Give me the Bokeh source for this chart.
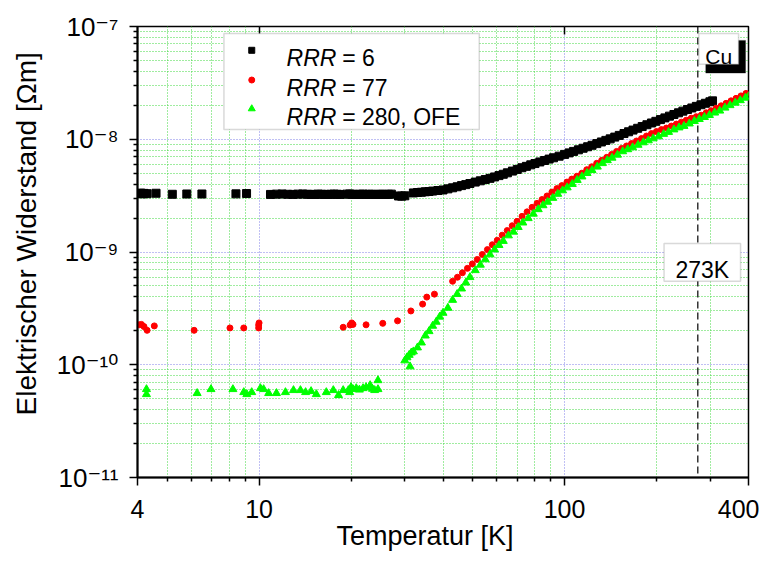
import math
from bokeh.plotting import figure
from bokeh.models import (FixedTicker, LogAxis, Label, BoxAnnotation, Span, Title,
                          CustomJSTickFormatter)
from bokeh.embed import file_html
from bokeh.resources import INLINE

# ---------------- data ----------------
# RRR = 6 (black squares)
t_rrr6 = [4.05, 4.1, 4.15, 4.2, 4.3, 4.6, 5.2, 5.8, 6.5, 8.4, 9.1, 10.9, 11.4, 11.9,
          12.4, 12.9, 13.4, 13.9, 14.4, 14.8, 15.2, 15.6, 16.0, 16.4, 16.8, 17.2, 17.6,
          18.0, 18.4, 19.4, 19.8, 20.2, 20.6, 21.0, 21.4, 21.9, 22.4, 22.9, 23.4, 23.9,
          24.4, 24.9, 25.4, 25.9, 26.5, 27.1, 28.6, 29.3, 30.0,
          32, 33, 34, 35, 36, 37, 38.5, 40, 41.5, 43, 44.5, 46, 47.5, 49, 51, 53, 55,
          57, 59, 61, 63, 65, 67.5, 70, 72.5, 75, 77.5, 80, 83, 86, 89, 92, 96,
          100, 103.5, 107, 111, 115, 119, 123, 127.5, 132, 136.5, 141, 146, 151, 156.5,
          162, 167.5, 173.5, 179.5, 186, 192.5, 199, 206, 213, 220.5, 228, 236, 244,
          252.5, 261, 270, 279.5, 289, 299, 305]
rho_rrr6 = [3.30e-9, 3.33e-9, 3.28e-9, 3.31e-9, 3.29e-9, 3.32e-9, 3.25e-9, 3.27e-9, 3.27e-9,
            3.28e-9, 3.30e-9, 3.24e-9, 3.26e-9, 3.27e-9, 3.25e-9, 3.24e-9, 3.26e-9, 3.27e-9,
            3.25e-9, 3.24e-9, 3.24e-9, 3.26e-9, 3.25e-9, 3.24e-9, 3.24e-9, 3.25e-9, 3.26e-9,
            3.25e-9, 3.24e-9, 3.26e-9, 3.27e-9, 3.25e-9, 3.24e-9, 3.24e-9, 3.25e-9, 3.26e-9,
            3.24e-9, 3.25e-9, 3.25e-9, 3.24e-9, 3.24e-9, 3.25e-9, 3.25e-9, 3.24e-9, 3.25e-9,
            3.26e-9, 3.14e-9, 3.13e-9, 3.15e-9,
            3.34e-9, 3.37e-9, 3.39e-9, 3.42e-9, 3.44e-9, 3.47e-9, 3.51e-9, 3.55e-9, 3.63e-9,
            3.71e-9, 3.79e-9, 3.88e-9, 3.96e-9, 4.05e-9, 4.17e-9, 4.28e-9, 4.39e-9, 4.50e-9,
            4.63e-9, 4.76e-9, 4.89e-9, 5.04e-9, 5.22e-9, 5.40e-9, 5.59e-9, 5.75e-9, 5.93e-9,
            6.09e-9, 6.29e-9, 6.48e-9, 6.67e-9, 6.85e-9, 7.08e-9,
            7.34e-9, 7.57e-9, 7.80e-9, 8.06e-9, 8.32e-9, 8.58e-9, 8.84e-9, 9.15e-9, 9.46e-9,
            9.77e-9, 1.008e-8, 1.045e-8, 1.082e-8, 1.124e-8, 1.165e-8, 1.206e-8, 1.251e-8,
            1.296e-8, 1.345e-8, 1.394e-8, 1.442e-8, 1.494e-8, 1.547e-8, 1.603e-8, 1.658e-8,
            1.716e-8, 1.776e-8, 1.835e-8, 1.894e-8, 1.957e-8, 2.023e-8, 2.085e-8, 2.150e-8,
            2.19e-8]

# RRR = 77 (red circles)
t_rrr77 = [4.05, 4.12, 4.2, 4.3, 4.54, 6.13, 8.03, 8.91, 9.97, 9.97, 10.0, 18.85, 19.86,
           20.1, 20.3, 22.4, 25.4, 28.4, 31.4, 34.3, 35.4, 37.5,
           43.0, 44.6, 46.3, 48.1, 49.9, 51.8, 53.8, 55.9, 58.0, 60.2, 62.5, 64.9, 67.4,
           69.9, 72.6, 75.4, 78.3, 81.3, 84.4, 87.6, 90.9, 94.4, 98.0, 101.8, 105.6,
           109.7, 113.9, 118.2, 122.7, 127.4, 132.3, 137.4, 142.6, 148.0, 153.7, 159.6,
           165.7, 172.0, 178.6, 185.4, 192.5, 199.8, 207.5, 215.4, 223.6, 232.2, 241.1,
           250.3, 259.8, 269.8, 280.1, 290.8, 301.9, 313.4, 325.4, 337.8, 350.7, 364.1,
           378.0, 392.5]
rho_rrr77 = [2.26e-10, 2.28e-10, 2.18e-10, 2.02e-10, 2.21e-10, 2.02e-10, 2.12e-10, 2.12e-10,
             2.12e-10, 2.25e-10, 2.35e-10, 2.15e-10, 2.25e-10, 2.35e-10, 2.28e-10, 2.26e-10,
             2.33e-10, 2.45e-10, 3.0e-10, 3.45e-10, 3.98e-10, 4.23e-10,
             5.50e-10, 5.97e-10, 6.54e-10, 7.16e-10, 7.84e-10, 8.59e-10, 9.51e-10, 1.05e-9,
             1.16e-9, 1.27e-9, 1.41e-9, 1.55e-9, 1.71e-9, 1.87e-9, 2.07e-9, 2.27e-9, 2.49e-9,
             2.70e-9, 2.92e-9, 3.14e-9, 3.40e-9, 3.65e-9, 3.88e-9, 4.17e-9, 4.43e-9, 4.70e-9,
             5.00e-9, 5.37e-9, 5.70e-9, 6.12e-9, 6.50e-9, 6.91e-9, 7.34e-9, 7.80e-9, 8.29e-9,
             8.72e-9, 9.17e-9, 9.65e-9, 1.015e-8, 1.068e-8, 1.124e-8, 1.170e-8, 1.218e-8,
             1.256e-8, 1.308e-8, 1.362e-8, 1.418e-8, 1.476e-8, 1.537e-8, 1.585e-8, 1.634e-8,
             1.718e-8, 1.789e-8, 1.882e-8, 1.980e-8, 2.083e-8, 2.191e-8, 2.305e-8, 2.424e-8,
             2.550e-8]

# RRR = 280, OFE (green triangles)
t_rrr280 = [4.28, 4.28, 6.27, 6.96, 8.21, 8.91, 9.12, 9.46, 10.1, 10.35, 10.75, 11.4, 12.2,
            12.96, 13.66, 14.2, 14.8, 15.4, 16.6, 17.5, 18.2, 18.85, 19.6, 19.8, 20.0, 20.3,
            20.8, 21.3, 21.9, 22.4, 23.1, 23.5, 23.9, 24.5, 24.5,
            30, 30.5, 31, 31.2, 31.5, 32, 33, 34, 35, 36, 37, 38, 39, 40, 41.5, 43, 44.5,
            46, 47.5, 49, 51, 53, 55, 57, 59, 61, 63, 65.5, 68, 70.5, 73, 76, 79, 82, 85,
            88, 91.5, 95, 98.5, 102, 106, 110, 114, 118.5, 123, 128, 133, 138, 143, 149,
            155, 161, 167, 174, 181, 188, 195, 203, 211, 219, 228, 237, 246, 256, 266, 276,
            287, 298, 310, 322, 335, 348, 362, 376, 391, 400]
rho_rrr280 = [6.06e-11, 5.47e-11, 5.59e-11, 6.06e-11, 6.06e-11, 5.70e-11, 5.47e-11, 5.70e-11,
              6.18e-11, 6.06e-11, 5.59e-11, 5.59e-11, 5.70e-11, 5.94e-11, 5.94e-11, 5.70e-11,
              5.82e-11, 5.47e-11, 5.70e-11, 5.94e-11, 5.37e-11, 5.94e-11, 5.94e-11, 5.70e-11,
              6.31e-11, 6.06e-11, 6.18e-11, 6.00e-11, 6.18e-11, 6.30e-11, 6.57e-11, 6.10e-11,
              5.94e-11, 7.27e-11, 6.06e-11,
              1.09e-10, 1.16e-10, 1.22e-10, 9.65e-11, 1.28e-10, 1.31e-10, 1.42e-10, 1.57e-10,
              1.81e-10, 1.98e-10, 2.21e-10, 2.40e-10, 2.66e-10, 2.88e-10, 3.19e-10, 3.75e-10,
              4.23e-10, 4.73e-10, 5.34e-10, 5.97e-10, 6.88e-10, 7.69e-10, 8.59e-10, 9.51e-10,
              1.05e-9, 1.15e-9, 1.25e-9, 1.40e-9, 1.51e-9, 1.66e-9, 1.82e-9, 1.99e-9, 2.18e-9,
              2.39e-9, 2.59e-9, 2.78e-9, 3.01e-9, 3.27e-9, 3.51e-9, 3.73e-9, 4.00e-9, 4.34e-9,
              4.66e-9, 5.00e-9, 5.31e-9, 5.70e-9, 6.12e-9, 6.50e-9, 6.84e-9, 7.27e-9, 7.80e-9,
              8.13e-9, 8.46e-9, 8.90e-9, 9.36e-9, 9.75e-9, 1.015e-8, 1.057e-8, 1.112e-8,
              1.158e-8, 1.218e-8, 1.269e-8, 1.308e-8, 1.375e-8, 1.447e-8, 1.507e-8, 1.569e-8,
              1.634e-8, 1.718e-8, 1.789e-8, 1.901e-8, 2.00e-8, 2.104e-8, 2.213e-8, 2.328e-8,
              2.40e-8]

x_ticks = [4, 10, 100, 400]
x_tick_labels = ["4", "10", "100", "400"]
x_minor = [5, 6, 7, 8, 9, 20, 30, 40, 50, 60, 70, 80, 90, 200, 300]
y_ticks = [1e-11, 1e-10, 1e-9, 1e-8, 1e-7]
y_tick_labels = ["10\u207b\u00b9\u00b9", "10\u207b\u00b9\u2070", "10\u207b\u2079",
                 "10\u207b\u2078", "10\u207b\u2077"]
y_minor = [k * 10.0 ** e for e in range(-11, -7) for k in range(2, 10)]
legend_names = ["= 6", "= 77", "= 280, OFE"]
legend_colors = ["black", "red", "#00ff00"]
legend_markers = ["square", "circle", "triangle"]
mark_temperature = 273
mark_label = "273K"
material_label = "Cu"
x_title = "Temperatur [K]"
y_title = "Elektrischer Widerstand [\u03a9m]"

FONT = "Liberation Sans, DejaVu Sans"

# ---------------- figure ----------------
W, H = 759, 552
FL, FR, FT, FB = 133, 748, 26, 481   # frame edges in canvas pixels

p = figure(width=W, height=H, x_axis_type="log", y_axis_type="log",
           x_range=(4, 400), y_range=(1e-11, 1e-7),
           output_backend="svg", toolbar_location=None,
           min_border_left=FL, min_border_right=W - FR,
           min_border_top=FT, min_border_bottom=H - FB)
p.background_fill_color = "white"
p.border_fill_color = "white"
p.outline_line_color = "black"
p.outline_line_width = 1.5


def tx(px):
    """canvas x pixel -> data x (log axis 4..400)"""
    return 4 * 10 ** ((px - FL) / (FR - FL) * 2)


def ry(py):
    """canvas y pixel -> data y (log axis 1e-11..1e-7)"""
    return 10 ** (-7 - (py - FT) / (FB - FT) * 4)


LOOKUP = """
const i = tvals.findIndex(t => Math.abs(Math.log10(t) - Math.log10(tick)) < 1e-6);
return i >= 0 ? tlabels[i] : "";
"""

xt = FixedTicker(ticks=x_ticks, minor_ticks=x_minor)
yt = FixedTicker(ticks=y_ticks, minor_ticks=y_minor)

xa = p.xaxis[0]
xa.ticker = xt
xa.formatter = CustomJSTickFormatter(args=dict(tvals=x_ticks, tlabels=x_tick_labels),
                                     code=LOOKUP)
xa.major_label_text_font = FONT
xa.major_label_text_font_size = "25px"
xa.major_label_text_color = "black"
xa.major_label_standoff = 14
xa.major_tick_out = 8
xa.major_tick_in = 0
xa.minor_tick_out = 4
xa.minor_tick_in = 0
xa.axis_line_width = 2
xa.major_tick_line_width = 1.5
xa.minor_tick_line_width = 1.5

ya = p.yaxis[0]
ya.ticker = yt
ya.formatter = CustomJSTickFormatter(args=dict(tvals=y_ticks, tlabels=y_tick_labels),
                                     code=LOOKUP)
ya.major_label_text_font = FONT
ya.major_label_text_font_size = "26px"
ya.major_label_text_color = "black"
ya.major_label_standoff = 11
ya.major_tick_out = 8
ya.major_tick_in = 0
ya.minor_tick_out = 4
ya.minor_tick_in = 0
ya.axis_line_width = 2
ya.major_tick_line_width = 1.5
ya.minor_tick_line_width = 1.5

top = LogAxis(ticker=FixedTicker(ticks=[10, 100]),
              formatter=CustomJSTickFormatter(code="return '';"),
              major_tick_in=8, major_tick_out=0, minor_tick_in=0, minor_tick_out=0,
              major_tick_line_width=1.5, axis_line_color=None,
              major_label_text_font_size="1px", major_label_standoff=0)
p.add_layout(top, "above")

# axis titles (side titles, shifted like in the reference)
p.add_layout(Title(text=x_title, align="left", offset=199, vertical_align="top",
                   text_font=FONT, text_font_size="27px", text_font_style="normal",
                   text_color="black", standoff=0), "below")
p.add_layout(Title(text=y_title, align="left", offset=62, vertical_align="top",
                   text_font=FONT, text_font_size="28px", text_font_style="normal",
                   text_color="black", standoff=20), "left")

for g, tk in ((p.xgrid[0], xt), (p.ygrid[0], yt)):
    g.ticker = tk
    g.grid_line_color = "#8080e8"
    g.grid_line_dash = "1 2"
    g.grid_line_width = 1
    g.minor_grid_line_color = "#40d840"
    g.minor_grid_line_dash = "1 2"
    g.minor_grid_line_width = 1

# 273 K marker line (under the data)
span = Span(location=mark_temperature, dimension="height", line_color="black",
            line_dash="7 4", line_width=1.2, level="underlay")
p.add_layout(span)

# data
p.scatter(t_rrr6, rho_rrr6, marker="square", size=8, color="black")
p.scatter(t_rrr77, rho_rrr77, marker="circle", size=6, color="red")
p.scatter(t_rrr280, rho_rrr280, marker="triangle", size=8, color="#00ff00")

# ---------------- annotations inside the frame ----------------
# legend box
p.add_layout(BoxAnnotation(left=tx(220), right=tx(477), top=ry(33), bottom=ry(130),
                           fill_color="white", fill_alpha=1, line_color="#808080",
                           line_width=1.5))
leg_rows = [50, 80, 109]
for name, col, mk, row in zip(legend_names, legend_colors, legend_markers, leg_rows):
    p.scatter([tx(248)], [ry(row)], marker=mk, size=7 if mk == "triangle" else 6,
              color=col, level="overlay")
    p.add_layout(Label(x=tx(283), y=ry(row + 8), text="RRR", text_font=FONT,
                       text_font_style="italic", text_font_size="23px",
                       text_color="black", text_baseline="alphabetic", text_align="left"))
    p.add_layout(Label(x=tx(339), y=ry(row + 8), text=name, text_font=FONT,
                       text_font_size="23px", text_color="black",
                       text_baseline="alphabetic", text_align="left"))

# Cu box with shadow
p.add_layout(BoxAnnotation(left=tx(705), right=tx(745), top=ry(40), bottom=ry(73),
                           fill_color="black", fill_alpha=1, line_color="black"))
p.add_layout(BoxAnnotation(left=tx(698), right=tx(738), top=ry(33), bottom=ry(64),
                           fill_color="white", fill_alpha=1, line_color="#808080",
                           line_width=1.5))
p.add_layout(Label(x=tx(718), y=ry(56), text=material_label, text_font=FONT,
                   text_font_size="21px", text_color="black",
                   text_baseline="alphabetic", text_align="center"))

# 273K box
p.add_layout(BoxAnnotation(left=tx(663), right=tx(740), top=ry(245), bottom=ry(283),
                           fill_color="white", fill_alpha=1, line_color="#808080",
                           line_width=1.5))
p.add_layout(Label(x=tx(701.5), y=ry(272), text=mark_label, text_font=FONT,
                   text_font_size="23px", text_color="black",
                   text_baseline="alphabetic", text_align="center"))

open("out.html", "w").write(file_html(p, INLINE))
